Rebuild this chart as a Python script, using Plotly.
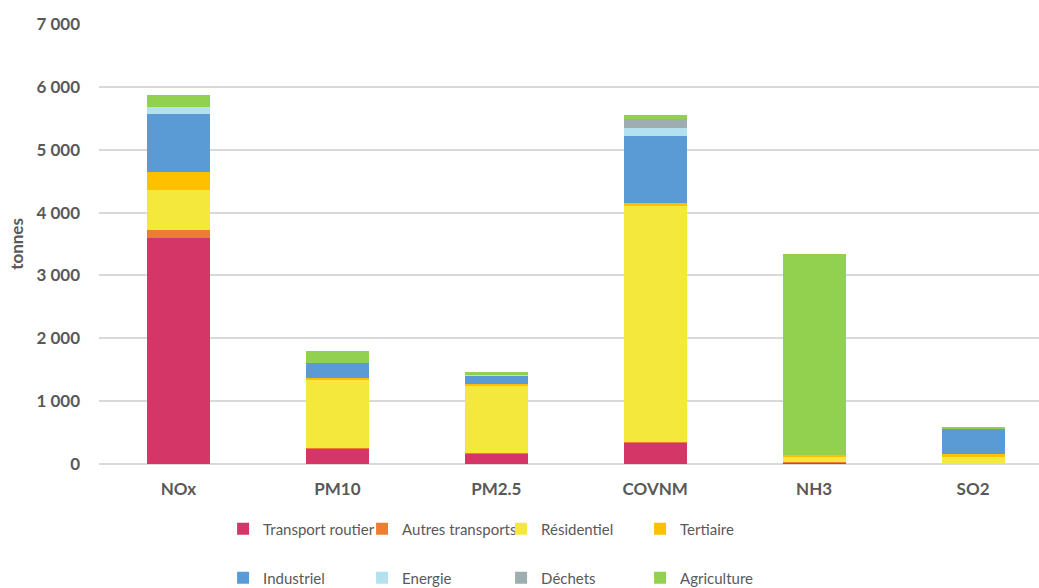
import plotly.graph_objects as go

categories = ["NOx", "PM10", "PM2.5", "COVNM", "NH3", "SO2"]

transport_routier = [3600, 240, 165, 340, 25, 0]
autres_transports = [118, 15, 5, 10, 12, 0]
residentiel = [641, 1090, 1076, 3755, 79, 111]
tertiaire = [281, 30, 27, 45, 22, 48]
industriel = [933, 235, 127, 1065, 0, 403]
energie = [102, 0, 10, 130, 0, 5]
dechets = [0, 0, 0, 150, 0, 0]
agriculture = [195, 195, 55, 55, 3208, 25]

series_names = ["Transport routier", "Autres transports", "Résidentiel", "Tertiaire",
                "Industriel", "Energie", "Déchets", "Agriculture"]
series_values = [transport_routier, autres_transports, residentiel, tertiaire,
                 industriel, energie, dechets, agriculture]
series_colors = ["#D43767", "#ED7D31", "#F5E83D", "#FFC000",
                 "#5B9BD5", "#B4E1F0", "#9EADB0", "#92D050"]

FONT = "Lato"
GREY = "#595959"

fig = go.Figure()
for i, (name, vals, col) in enumerate(zip(series_names, series_values, series_colors)):
    fig.add_trace(go.Bar(
        x=categories, y=vals, name=name,
        marker=dict(color=col, line=dict(width=0)),
        legend="legend" if i < 4 else "legend2",
    ))

legend_common = dict(
    orientation="h", xanchor="left", yanchor="middle",
    font=dict(family=FONT, size=15, color=GREY),
    entrywidth=94, traceorder="normal", bgcolor="rgba(0,0,0,0)",
    itemclick=False, itemdoubleclick=False,
)

fig.update_layout(
    width=1039, height=588,
    margin=dict(l=99, r=0, t=24, b=124, autoexpand=False),
    barmode="stack", bargap=0.604,
    plot_bgcolor="white", paper_bgcolor="white",
    separators=", ",
    font=dict(family=FONT, color=GREY),
    xaxis=dict(
        range=[-0.5, 5.415], showgrid=False, showline=False, zeroline=False,
        tickfont=dict(family=FONT, size=17, color=GREY, weight="bold"),
        ticklabelstandoff=13, fixedrange=True, automargin=False,
    ),
    yaxis=dict(
        range=[0, 7000], dtick=1000, tickformat=",d",
        showgrid=True, gridcolor="#D9D9D9", gridwidth=1.5,
        zeroline=True, zerolinecolor="#D9D9D9", zerolinewidth=1.5,
        showline=False,
        tickfont=dict(family=FONT, size=17, color=GREY, weight="bold"),
        ticklabelstandoff=18,
        title=dict(text="tonnes", font=dict(family=FONT, size=17, color=GREY, weight="bold"),
                   standoff=8),
        fixedrange=True, automargin=False,
    ),
    legend=dict(x=0.132, y=-0.148, **legend_common),
    legend2=dict(x=0.132, y=-0.259, **legend_common),
)

fig.write_html("out.html")
